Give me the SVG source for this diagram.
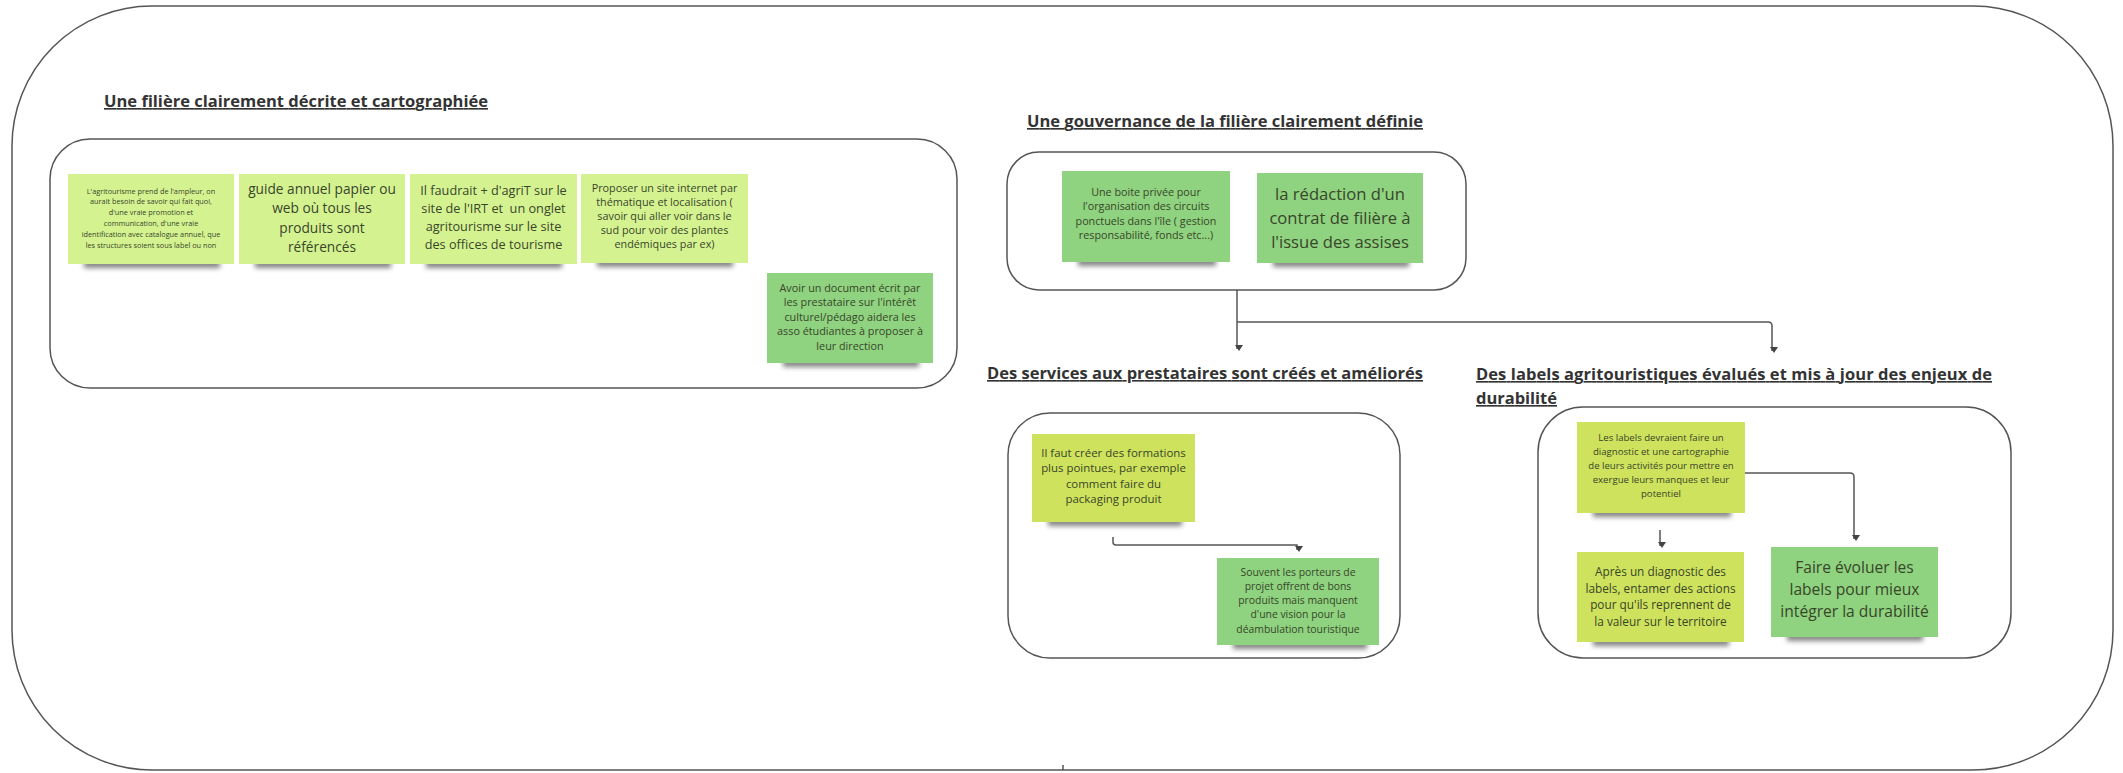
<svg xmlns="http://www.w3.org/2000/svg" width="2123" height="773" viewBox="0 0 2123 773">
<style>
.frame{fill:none;stroke:#555;stroke-width:1.5}
.lime{fill:#d5f291}
.green{fill:#8fd27f}
.yg{fill:#cfe25d}
.shadow{fill:#333;opacity:.6;filter:url(#blur)}
.t{font-family:"Open Sans","Liberation Sans",sans-serif;fill:#38462a;text-anchor:middle}
.title{font-family:"Open Sans","Liberation Sans",sans-serif;font-weight:bold;font-size:16.5px;fill:#333;text-decoration:underline}
.conn{fill:none;stroke:#555;stroke-width:1.5}
</style>
<defs>
<filter id="blur" x="-20%" y="-100%" width="140%" height="300%"><feGaussianBlur stdDeviation="2.5"/></filter>
<marker id="arr" markerWidth="8" markerHeight="8" refX="4" refY="6" orient="auto-start-reverse" markerUnits="userSpaceOnUse" viewBox="0 0 8 8">
<path d="M0,0 L8,0 L4,6 Z" fill="#444" transform="rotate(-90 4 4)"/>
</marker>
</defs>
<rect width="2123" height="773" fill="#fff"/>
<rect id="outer" x="12" y="6" width="2101" height="764" rx="140" ry="140" class="frame"/>

<!-- Section 1 -->
<g id="section1">
<text class="title" x="104" y="107" textLength="384">Une filière clairement décrite et cartographiée</text>
<rect x="50" y="139" width="907" height="249" rx="40" class="frame"/>
</g>
<g id="n1">
<rect class="shadow" x="84" y="260" width="136" height="8"/>
<rect class="lime" x="68" y="174" width="166" height="90"/>
<text class="t" font-size="7.3"><tspan x="151" y="193.5">L'agritourisme prend de l'ampleur, on</tspan><tspan x="151" y="204.3">aurait besoin de savoir qui fait quoi,</tspan><tspan x="151" y="215.1">d'une vraie promotion et</tspan><tspan x="151" y="225.9">communication, d'une vraie</tspan><tspan x="151" y="236.7">identification avec catalogue annuel, que</tspan><tspan x="151" y="247.5">les structures soient sous label ou non</tspan></text>
</g>
<g id="n2">
<rect class="shadow" x="255" y="260" width="136" height="8"/>
<rect class="lime" x="239" y="174" width="166" height="90"/>
<text class="t" font-size="13.7"><tspan x="322" y="193.5">guide annuel papier ou</tspan><tspan x="322" y="213">web où tous les</tspan><tspan x="322" y="232.5">produits sont</tspan><tspan x="322" y="252">référencés</tspan></text>
</g>
<g id="n3">
<rect class="shadow" x="426" y="260" width="136" height="8"/>
<rect class="lime" x="410" y="174" width="167" height="90"/>
<text class="t" font-size="12.7" xml:space="preserve"><tspan x="493.5" y="195">Il faudrait + d'agriT sur le</tspan><tspan x="493.5" y="213">site de l'IRT et  un onglet</tspan><tspan x="493.5" y="231">agritourisme sur le site</tspan><tspan x="493.5" y="249">des offices de tourisme</tspan></text>
</g>
<g id="n4">
<rect class="shadow" x="597" y="259" width="136" height="8"/>
<rect class="lime" x="581" y="174" width="167" height="89"/>
<text class="t" font-size="10.8"><tspan x="664.5" y="191.5">Proposer un site internet par</tspan><tspan x="664.5" y="205.5">thématique et localisation (</tspan><tspan x="664.5" y="219.5">savoir qui aller voir dans le</tspan><tspan x="664.5" y="233.5">sud pour voir des plantes</tspan><tspan x="664.5" y="247.5">endémiques par ex)</tspan></text>
</g>
<g id="n5">
<rect class="shadow" x="783" y="359" width="136" height="8"/>
<rect class="green" x="767" y="273" width="166" height="90"/>
<text class="t" font-size="10.8"><tspan x="850" y="291.5">Avoir un document écrit par</tspan><tspan x="850" y="306">les prestataire sur l'intérêt</tspan><tspan x="850" y="320.5">culturel/pédago aidera les</tspan><tspan x="850" y="335">asso étudiantes à proposer à</tspan><tspan x="850" y="349.5">leur direction</tspan></text>
</g>

<!-- Section 2 -->
<g id="section2">
<text class="title" x="1027" y="127" textLength="396">Une gouvernance de la filière clairement définie</text>
<rect x="1007" y="152" width="459" height="138" rx="32" class="frame"/>
</g>
<g id="g1">
<rect class="shadow" x="1078" y="258" width="138" height="8"/>
<rect class="green" x="1062" y="171" width="168" height="91"/>
<text class="t" font-size="10.75"><tspan x="1146" y="195.5">Une boite privée pour</tspan><tspan x="1146" y="210">l'organisation des circuits</tspan><tspan x="1146" y="224.5">ponctuels dans l'île ( gestion</tspan><tspan x="1146" y="239">responsabilité, fonds etc...)</tspan></text>
</g>
<g id="g2">
<rect class="shadow" x="1273" y="259" width="136" height="8"/>
<rect class="green" x="1257" y="173" width="166" height="90"/>
<text class="t" font-size="16.6"><tspan x="1340" y="199.5">la rédaction d'un</tspan><tspan x="1340" y="223.5">contrat de filière à</tspan><tspan x="1340" y="247.5">l'issue des assises</tspan></text>
</g>

<!-- Section 3 -->
<g id="section3">
<text class="title" x="987" y="379" textLength="436">Des services aux prestataires sont créés et améliorés</text>
<rect x="1008" y="413" width="392" height="245" rx="42" class="frame"/>
</g>
<g id="s1">
<rect class="shadow" x="1048" y="518" width="134" height="8"/>
<rect class="yg" x="1032" y="434" width="163" height="88"/>
<text class="t" font-size="11.45"><tspan x="1113.5" y="456.5">Il faut créer des formations</tspan><tspan x="1113.5" y="472">plus pointues, par exemple</tspan><tspan x="1113.5" y="487.5">comment faire du</tspan><tspan x="1113.5" y="503">packaging produit</tspan></text>
</g>
<g id="s2">
<rect class="shadow" x="1233" y="641" width="134" height="8"/>
<rect class="green" x="1217" y="558" width="162" height="87"/>
<text class="t" font-size="10.4"><tspan x="1298" y="575.5">Souvent les porteurs de</tspan><tspan x="1298" y="589.8">projet offrent de bons</tspan><tspan x="1298" y="604.1">produits mais manquent</tspan><tspan x="1298" y="618.4">d'une vision pour la</tspan><tspan x="1298" y="632.7">déambulation touristique</tspan></text>
</g>

<!-- Section 4 -->
<g id="section4">
<text class="title" x="1476" y="380" textLength="516">Des labels agritouristiques évalués et mis à jour des enjeux de </text>
<text class="title" x="1476" y="404" textLength="81">durabilité</text>
<rect x="1538" y="407" width="473" height="251" rx="45" class="frame"/>
</g>
<g id="l1">
<rect class="shadow" x="1593" y="509" width="138" height="8"/>
<rect class="yg" x="1577" y="422" width="168" height="91"/>
<text class="t" font-size="9.6"><tspan x="1661" y="441">Les labels devraient faire un</tspan><tspan x="1661" y="455">diagnostic et une cartographie</tspan><tspan x="1661" y="469">de leurs activités pour mettre en</tspan><tspan x="1661" y="483">exergue leurs manques et leur</tspan><tspan x="1661" y="497">potentiel</tspan></text>
</g>
<g id="l2">
<rect class="shadow" x="1593" y="638" width="136" height="8"/>
<rect class="yg" x="1577" y="552" width="167" height="90"/>
<text class="t" font-size="11.8"><tspan x="1660.5" y="576">Après un diagnostic des</tspan><tspan x="1660.5" y="592.5">labels, entamer des actions</tspan><tspan x="1660.5" y="609">pour qu'ils reprennent de</tspan><tspan x="1660.5" y="625.5">la valeur sur le territoire</tspan></text>
</g>
<g id="l3">
<rect class="shadow" x="1787" y="633" width="136" height="8"/>
<rect class="green" x="1771" y="547" width="167" height="90"/>
<text class="t" font-size="15.6"><tspan x="1854.5" y="573">Faire évoluer les</tspan><tspan x="1854.5" y="595">labels pour mieux</tspan><tspan x="1854.5" y="617">intégrer la durabilité</tspan></text>
</g>

<!-- Connectors -->
<g id="connectors">
<path class="conn" d="M1237,290 V349" marker-end="url(#arr)"/>
<path class="conn" d="M1237,322 H1768 Q1772,322 1772,326 V351" marker-end="url(#arr)"/>
<path class="conn" d="M1113,537 V542 Q1113,545 1116,545 H1297 V550" marker-end="url(#arr)"/>
<path class="conn" d="M1745,473 H1850 Q1854,473 1854,477 V539" marker-end="url(#arr)"/>
<path class="conn" d="M1660,530 V546" marker-end="url(#arr)"/>
<path class="conn" d="M1063,765 V770"/>
</g>
</svg>
